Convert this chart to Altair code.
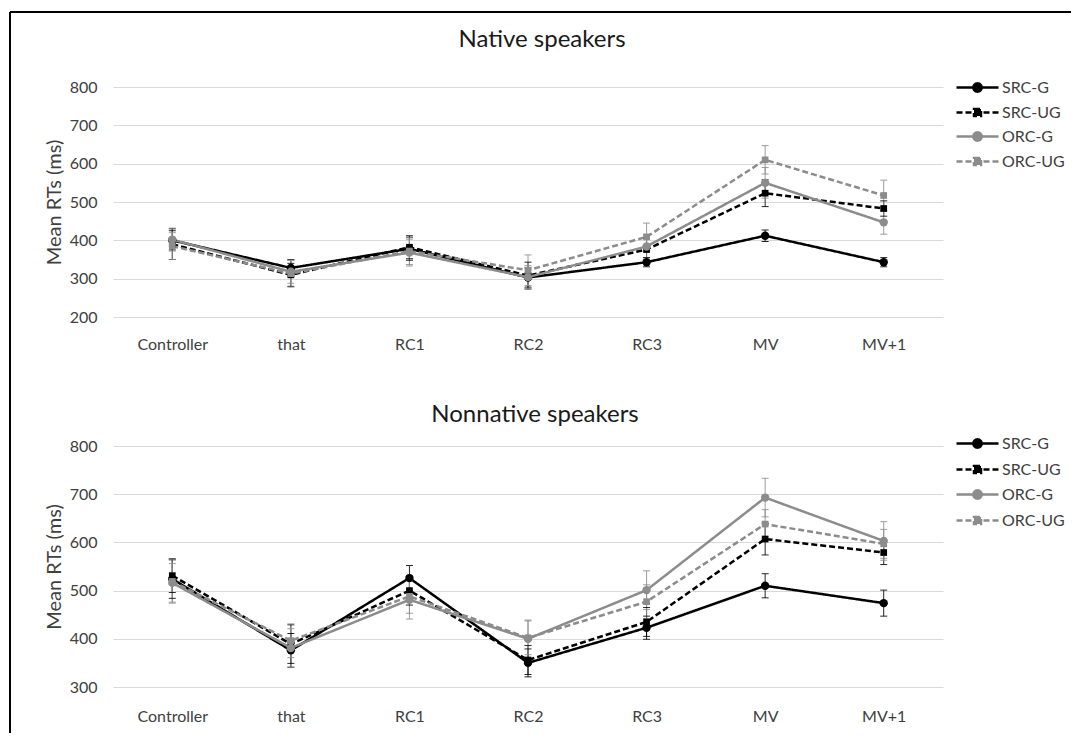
import math
import altair as alt
import pandas as pd

# ---------------- data ----------------
categories = ["Controller", "that", "RC1", "RC2", "RC3", "MV", "MV+1"]
series = ["SRC-G", "SRC-UG", "ORC-G", "ORC-UG"]

native_src_g = [400, 328, 378, 303, 343, 412, 343]
native_src_ug = [390, 310, 382, 308, 376, 523, 483]
native_orc_g = [402, 318, 368, 304, 384, 550, 447]
native_orc_ug = [385, 313, 372, 322, 409, 610, 517]

native_err_src_g = [25, 22, 30, 25, 12, 15, 12]
native_err_src_ug = [40, 30, 30, 35, 30, 35, 20]
native_err_orc_g = [30, 30, 35, 30, 30, 40, 31]
native_err_orc_ug = [35, 35, 35, 40, 36, 37, 40]

nonnative_src_g = [524, 376, 526, 350, 423, 510, 474]
nonnative_src_ug = [531, 389, 500, 356, 435, 607, 579]
nonnative_orc_g = [516, 381, 481, 400, 501, 693, 603]
nonnative_orc_ug = [519, 396, 488, 402, 477, 638, 597]

nonnative_err_src_g = [40, 35, 26, 29, 24, 25, 27]
nonnative_err_src_ug = [35, 40, 30, 30, 30, 33, 25]
nonnative_err_orc_g = [40, 40, 40, 39, 40, 40, 40]
nonnative_err_orc_ug = [45, 35, 35, 35, 35, 30, 30]


def build_df(values, errors):
    rows = []
    for s, vals, errs in zip(series, values, errors):
        clause, gram = s.split("-")
        for c, v, e in zip(categories, vals, errs):
            rows.append({"region": c, "condition": s, "clause": clause, "gram": gram,
                         "rt": v, "lo": v - e, "hi": v + e})
    return pd.DataFrame(rows)


native_df = build_df(
    [native_src_g, native_src_ug, native_orc_g, native_orc_ug],
    [native_err_src_g, native_err_src_ug, native_err_orc_g, native_err_orc_ug],
)
nonnative_df = build_df(
    [nonnative_src_g, nonnative_src_ug, nonnative_orc_g, nonnative_orc_ug],
    [nonnative_err_src_g, nonnative_err_src_ug, nonnative_err_orc_g, nonnative_err_orc_ug],
)

# ---------------- style ----------------
FONT = "Lato"
TXT = "#404040"
BLACK = "#000000"
GREY = "#8c8c8c"
COLORS = [BLACK, BLACK, GREY, GREY]


def polygon_path(r, n=16):
    pts = [(r * math.cos(2 * math.pi * i / n), r * math.sin(2 * math.pi * i / n)) for i in range(n)]
    return "M" + " L".join(f"{x:.3f},{y:.3f}" for x, y in pts) + " Z"


LINE_PATH = "M-2.1,0 L2.1,0 "
CIRC_SYM = LINE_PATH + polygon_path(0.42)
SQ_SYM = LINE_PATH + "M-0.35,-0.35 L0.35,-0.35 L0.35,0.35 L-0.35,0.35 Z"

is_g = "(datum.value == 'SRC-G' || datum.value == 'ORC-G')"
is_src = "(datum.value == 'SRC-G' || datum.value == 'SRC-UG')"

SYM_TYPE = {"expr": f"{is_g} ? '{CIRC_SYM}' : '{SQ_SYM}'"}
SYM_DASH = {"expr": f"{is_g} ? [1, 0] : [6, 3]"}
SYM_COLOR = {"expr": f"{is_src} ? '{BLACK}' : '{GREY}'"}


def panel(df, title, ymin, height, title_dx, title_offset, legend_y, legend_rowpad,
          xlabel_pad=19, frame=False):
    x = alt.X(
        "region:N",
        sort=categories,
        scale=alt.Scale(type="point", padding=0.5),
        axis=alt.Axis(
            title=None, labelAngle=0, ticks=False, tickSize=0, domain=False, grid=False,
            labelPadding=xlabel_pad, labelFont=FONT, labelFontSize=16, labelColor=TXT,
        ),
    )
    yscale = alt.Scale(domain=[ymin, 800], nice=False, zero=False)
    yaxis = alt.Axis(
        title="Mean RTs (ms)", values=list(range(ymin, 801, 100)), ticks=False, tickSize=0,
        domain=False, grid=True, gridColor="#d9d9d9", gridWidth=1, labelOverlap=False,
        labelPadding=16, labelFont=FONT, labelFontSize=16, labelColor=TXT,
        titleFont=FONT, titleFontSize=20, titleFontWeight="normal", titleColor=TXT,
        titlePadding=5,
    )
    color = alt.Color(
        "condition:N",
        scale=alt.Scale(domain=series, range=COLORS),
        legend=alt.Legend(
            title=None, orient="none", legendX=853, legendY=legend_y, direction="vertical",
            padding=0, symbolSize=400, labelOffset=13, rowPadding=legend_rowpad,
            labelFont=FONT, labelFontSize=16, labelColor=TXT, symbolStrokeWidth=2.5,
            symbolType=SYM_TYPE, symbolDash=SYM_DASH, symbolFillColor=SYM_COLOR,
            symbolStrokeColor=SYM_COLOR, symbolOpacity=1,
        ),
    )
    clause_scale = alt.Scale(domain=["SRC", "ORC"], range=[BLACK, GREY])

    base = alt.Chart(df).encode(x=x, y=alt.Y("rt:Q", scale=yscale, axis=yaxis))

    lines = base.mark_line(strokeWidth=2.5).encode(
        color=color,
        strokeDash=alt.StrokeDash(
            "gram:N", scale=alt.Scale(domain=["G", "UG"], range=[[1, 0], [6, 3]]), legend=None
        ),
    )
    err = base.mark_rule(strokeWidth=1, opacity=0.85).encode(
        y=alt.Y("lo:Q", scale=yscale, axis=yaxis), y2="hi:Q",
        stroke=alt.Stroke("clause:N", scale=clause_scale, legend=None),
    )
    cap_lo = base.mark_tick(thickness=1, size=7, opacity=0.85).encode(
        y=alt.Y("lo:Q", scale=yscale, axis=yaxis),
        fill=alt.Fill("clause:N", scale=clause_scale, legend=None),
    )
    cap_hi = base.mark_tick(thickness=1, size=7, opacity=0.85).encode(
        y=alt.Y("hi:Q", scale=yscale, axis=yaxis),
        fill=alt.Fill("clause:N", scale=clause_scale, legend=None),
    )
    points = base.mark_point(filled=True, opacity=1).encode(
        fill=alt.Fill("clause:N", scale=clause_scale, legend=None),
        shape=alt.Shape("gram:N", scale=alt.Scale(domain=["G", "UG"], range=["circle", "square"]), legend=None),
        size=alt.Size("gram:N", scale=alt.Scale(domain=["G", "UG"], range=[70, 45]), legend=None),
    )

    layers = []
    if frame:
        frame_df = pd.DataFrame({"k": [0]})
        layers.append(
            alt.Chart(frame_df).mark_rule(color="black", strokeWidth=2).encode(
                x=alt.value(-103), y=alt.value(-75), y2=alt.value(646)
            )
        )
        layers.append(
            alt.Chart(frame_df).mark_rule(color="black", strokeWidth=2).encode(
                x=alt.value(-103), x2=alt.value(958), y=alt.value(-75)
            )
        )
    layers += [lines, err, cap_lo, cap_hi, points]

    return alt.layer(*layers).properties(
        width=830,
        height=height,
        title=alt.TitleParams(
            text=title, font=FONT, fontSize=24, fontWeight="normal", color="#1a1a1a",
            anchor="middle", frame="group", dx=title_dx, offset=title_offset, baseline="middle",
        ),
    )


top = panel(native_df, "Native speakers", 200, 230, 14, -53, -11, 4, xlabel_pad=19, frame=True)
bottom = panel(nonnative_df, "Nonnative speakers", 300, 241, 7, -7, -14, 5, xlabel_pad=21)

chart = (
    alt.vconcat(top, bottom, spacing=129, bounds="flush")
    .resolve_scale(color="independent", shape="independent", size="independent",
                   strokeDash="independent", fill="independent", stroke="independent")
    .resolve_legend(color="independent")
    .properties(padding={"left": 1, "top": 3, "right": 0, "bottom": 0}, background="white")
    .configure_view(stroke=None)
    .configure_axis(labelOverlap=False)
)

chart.save("out.html", embed_options={"renderer": "svg", "actions": False})
